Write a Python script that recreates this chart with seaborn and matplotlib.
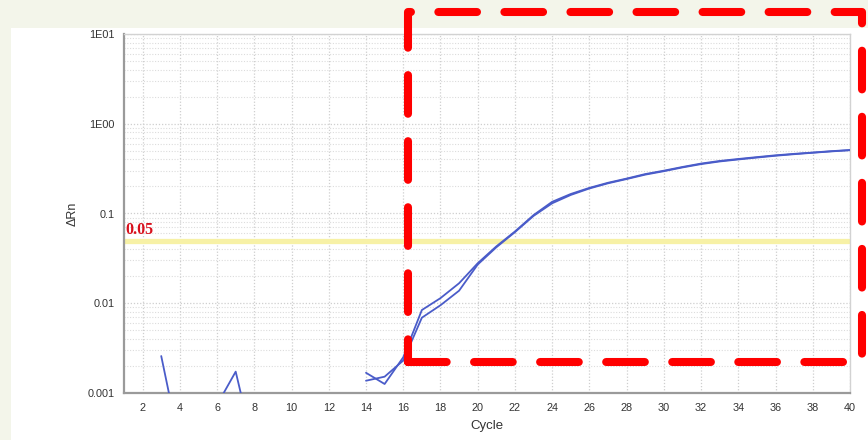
import numpy as np
import pandas as pd
import matplotlib
matplotlib.use("Agg")
import matplotlib.pyplot as plt
from matplotlib.patches import Rectangle
from matplotlib.ticker import FixedLocator, LogLocator, NullFormatter
import seaborn as sb

nan = np.nan
cycles = list(range(1, 41))
# delta Rn per cycle, two wells (nan = no value)
well_a = [nan, nan, 0.00258, 0.00026, nan, 0.00074, 0.00173, 0.00023,
          nan, nan, nan, nan, nan, 0.00168, 0.00126, 0.0025, 0.0084,
          0.0114, 0.0167, 0.0279, 0.043, 0.063, 0.096, 0.135, 0.165,
          0.193, 0.22, 0.245, 0.275, 0.30, 0.33, 0.36, 0.385, 0.405,
          0.425, 0.445, 0.462, 0.478, 0.495, 0.51]
well_b = [nan] * 13 + [0.00137, 0.00152, 0.0023, 0.0069, 0.0095, 0.0138,
          0.027, 0.042, 0.062, 0.094, 0.13, 0.161, 0.19, 0.217, 0.242,
          0.271, 0.296, 0.326, 0.355, 0.38, 0.40, 0.42, 0.44, 0.458,
          0.475, 0.492, 0.507]
threshold = 0.05
ytick_vals = [0.001, 0.01, 0.1, 1, 10]
ytick_labels = ["0.001", "0.01", "0.1", "1E00", "1E01"]
xtick_vals = list(range(2, 41, 2))


def segments(name, vals):
    rows = []
    seg = 0
    prev = False
    for c, v in zip(cycles, vals):
        if np.isnan(v):
            prev = False
            continue
        if not prev:
            seg += 1
        prev = True
        rows.append((name + str(seg), c, v))
    return rows


df = pd.DataFrame(segments("A", well_a) + segments("B", well_b),
                  columns=["seg", "Cycle", "dRn"])

sb.set_style("white")
plt.rcParams['font.family'] = ['Liberation Sans', 'DejaVu Sans']

fig = plt.figure(figsize=(8.68, 4.40), dpi=100, facecolor="#f3f5ea")
fig.patches.append(Rectangle((11 / 868, 0), 1, 1 - 28 / 440, transform=fig.transFigure,
                             facecolor="white", edgecolor="none", zorder=-5))
ax = fig.add_axes([124 / 868, 47 / 440, 726 / 868, 359 / 440])
ax.set_zorder(1)
ax.set_yscale("log")
ax.set_xlim(1, 40)
ax.set_ylim(0.001, 10)

ax.axhline(threshold, color="#f7f1a6", lw=3.8, zorder=2)
sb.lineplot(data=df, x="Cycle", y="dRn", units="seg", estimator=None,
            color="#4a5cc9", lw=1.3, ax=ax, zorder=3)
ax.text(1.05, threshold * 1.07, "0.05", color="#d8101c", fontsize=11.5, fontweight="bold",
        family="Liberation Serif", va="bottom", ha="left", zorder=4)

ax.xaxis.set_major_locator(FixedLocator(xtick_vals))
ax.set_xticklabels([str(v) for v in xtick_vals])
ax.yaxis.set_major_locator(FixedLocator(ytick_vals))
ax.set_yticklabels(ytick_labels)
ax.yaxis.set_minor_locator(LogLocator(base=10, subs=np.arange(2, 10)))
ax.yaxis.set_minor_formatter(NullFormatter())
ax.grid(True, which="major", color="#cfcfcf", ls=(0, (1, 1.5)), lw=0.9)
ax.grid(True, which="minor", axis="y", color="#dcdcdc", ls=(0, (1, 1.5)), lw=0.8)
ax.set_axisbelow(True)

ax.tick_params(axis="both", which="major", labelsize=7.8, colors="#333333",
               length=3, width=0.8, direction="out", pad=4)
ax.tick_params(axis="y", which="minor", length=0)
ax.set_xlabel("Cycle", fontsize=9.5, color="#333333", labelpad=5)
ax.set_ylabel("ΔRn", fontsize=9, color="#333333", labelpad=6)
for s in ["left", "bottom"]:
    ax.spines[s].set_color("#9a9a9a")
    ax.spines[s].set_linewidth(1.6)
for s in ["top", "right"]:
    ax.spines[s].set_color("#d2d2d2")
    ax.spines[s].set_linewidth(1.0)

# red dashed highlight box
fig.patches.append(Rectangle((408 / 868, 1 - 362 / 440), 454 / 868, 350 / 440,
                             transform=fig.transFigure, fill=False, edgecolor="#ff0000",
                             lw=5.8, ls=(0, (4.8, 3.4)), capstyle="round",
                             joinstyle="round", zorder=10))

fig.savefig("out.png", dpi=100, facecolor=fig.get_facecolor())
